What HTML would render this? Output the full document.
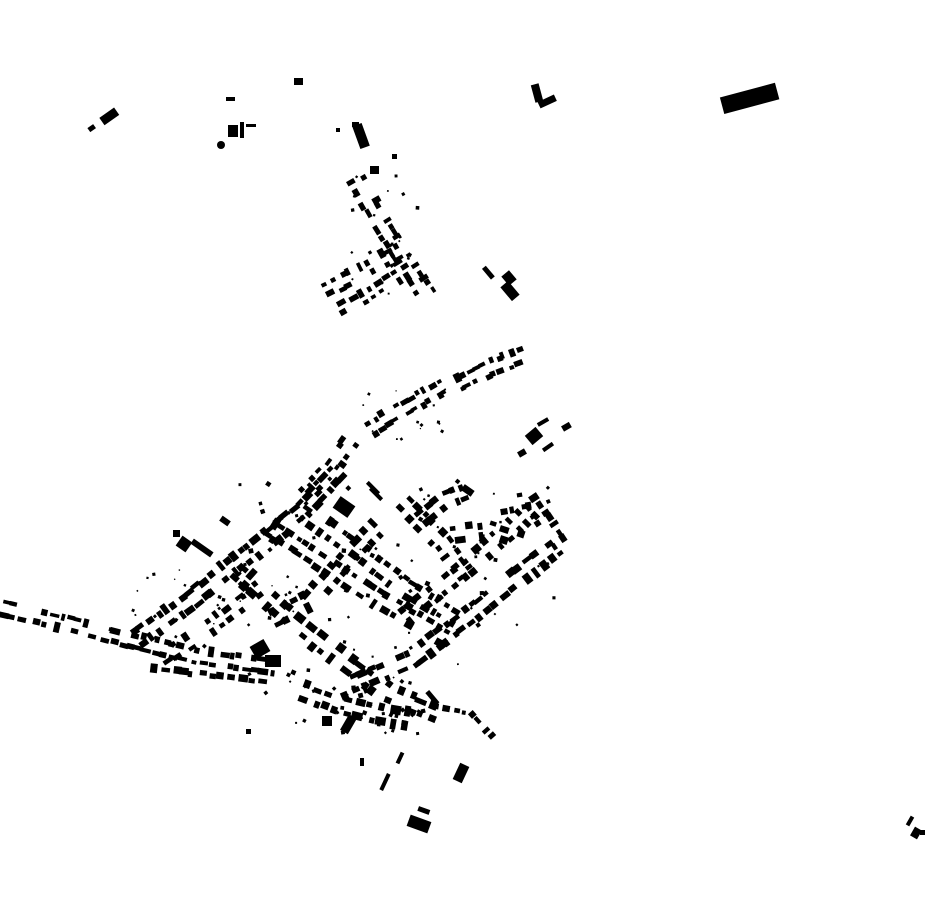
<!DOCTYPE html>
<html><head><meta charset="utf-8"><style>html,body{margin:0;padding:0;background:#fff;width:930px;height:924px;overflow:hidden}svg{display:block}</style></head>
<body>
<svg id="s" width="930" height="924" viewBox="0 0 930 924" xmlns="http://www.w3.org/2000/svg">
<g fill="#000">
<rect x="721" y="90" width="57" height="17" transform="rotate(-15 749 98)"/>
<rect x="533" y="84" width="8" height="18" transform="rotate(-15 537 93)"/>
<rect x="538" y="98" width="18" height="7" transform="rotate(-25 547 101)"/>
<rect x="100" y="112" width="18" height="9" transform="rotate(-35 109 116)"/>
<rect x="88" y="126" width="7" height="5" transform="rotate(-35 91 128)"/>
<rect x="226" y="97" width="9" height="4"/>
<rect x="228" y="125" width="10" height="12"/>
<rect x="240" y="122" width="4" height="16"/>
<rect x="246" y="124" width="10" height="3"/>
<circle cx="221" cy="145" r="4"/>
<rect x="294" y="78" width="9" height="7"/>
<rect x="356" y="124" width="10" height="24" transform="rotate(-20 361 136)"/>
<rect x="352" y="122" width="7" height="5"/>
<rect x="336" y="128" width="4" height="4"/>
<rect x="370" y="166" width="9" height="8"/>
<rect x="392" y="154" width="5" height="5"/>
<rect x="486" y="266" width="5" height="14" transform="rotate(-40 488 273)"/>
<rect x="504" y="272" width="10" height="12" transform="rotate(-40 509 278)"/>
<rect x="505" y="282" width="10" height="18" transform="rotate(-40 510 291)"/>
<rect x="527" y="430" width="14" height="12" transform="rotate(-40 534 436)"/>
<rect x="537" y="420" width="12" height="4" transform="rotate(-30 543 422)"/>
<rect x="542" y="445" width="12" height="4" transform="rotate(-35 548 447)"/>
<rect x="518" y="450" width="8" height="6" transform="rotate(-30 522 453)"/>
<rect x="562" y="424" width="9" height="6" transform="rotate(-30 566 427)"/>
<rect x="335" y="500" width="18" height="14" transform="rotate(35 344 507)"/>
<rect x="365" y="486" width="16" height="4" transform="rotate(45 373 488)"/>
<rect x="368" y="492" width="16" height="4" transform="rotate(45 376 494)"/>
<rect x="462" y="487" width="12" height="7" transform="rotate(35 468 490)"/>
<rect x="178" y="538" width="12" height="12" transform="rotate(35 184 544)"/>
<rect x="190" y="545" width="24" height="6" transform="rotate(35 202 548)"/>
<rect x="173" y="530" width="7" height="7"/>
<rect x="220" y="518" width="10" height="6" transform="rotate(35 225 521)"/>
<rect x="456" y="764" width="10" height="18" transform="rotate(25 461 773)"/>
<rect x="408" y="818" width="22" height="12" transform="rotate(20 419 824)"/>
<rect x="418" y="808" width="12" height="5" transform="rotate(20 424 810)"/>
<rect x="383" y="773" width="4" height="18" transform="rotate(25 385 782)"/>
<rect x="398" y="752" width="4" height="12" transform="rotate(25 400 758)"/>
<rect x="360" y="758" width="4" height="8"/>
<rect x="246" y="729" width="5" height="5"/>
<rect x="908" y="816" width="4" height="10" transform="rotate(30 910 821)"/>
<rect x="912" y="828" width="8" height="10" transform="rotate(30 916 833)"/>
<rect x="920" y="830" width="5" height="5"/>
<rect x="344" y="715" width="9" height="18" transform="rotate(30 348 724)"/>
<rect x="322" y="716" width="10" height="10"/>
<rect x="252" y="642" width="16" height="14" transform="rotate(-30 260 649)"/>
<rect x="265" y="655" width="16" height="12"/>
<rect x="430" y="690" width="5" height="16" transform="rotate(-40 432 698)"/>
</g>
<g id="gen" fill="#000"></g>
</svg>
<script>
var seed=7;function r(){seed=(seed*16807)%2147483647;return seed/2147483647;}
var g=document.getElementById('gen'),out='';
function rect(x,y,w,h,a){out+='<rect x="'+(x-w/2).toFixed(1)+'" y="'+(y-h/2).toFixed(1)+'" width="'+w.toFixed(1)+'" height="'+h.toFixed(1)+'" transform="rotate('+a.toFixed(1)+' '+x.toFixed(1)+' '+y.toFixed(1)+')"/>';}
function row(pts,n,off,w,h,jit,p){
  p=p||0.85;
  var L=[0],tot=0;for(var i=1;i<pts.length;i++){tot+=Math.hypot(pts[i][0]-pts[i-1][0],pts[i][1]-pts[i-1][1]);L.push(tot);}
  for(var k=0;k<n;k++){
    var d=(k+0.5+ (r()-0.5)*0.6)/n*tot, s=1;while(s<pts.length-1&&L[s]<d)s++;
    var p0=pts[s-1],p1=pts[s],t=(d-L[s-1])/(L[s]-L[s-1]);
    var dx=p1[0]-p0[0],dy=p1[1]-p0[1],len=Math.hypot(dx,dy),nx=-dy/len,ny=dx/len;
    var x=p0[0]+dx*t+nx*off+(r()-0.5)*jit,y=p0[1]+dy*t+ny*off+(r()-0.5)*jit;
    var a=Math.atan2(dy,dx)*180/Math.PI+(r()<0.25?90:0);
    var ww=w*(0.6+r()*0.8),hh=h*(0.7+r()*0.6);
    if(r()<p)rect(x,y,ww,hh,a);
  }
}
function both(pts,n,off,w,h,j,p){row(pts,n,off,w,h,j,p);row(pts,n,-off,w,h,j,p);}
function inside(x,y){ // rough town hull
  if(x>470&&y>640)return false;
  if(x>520&&y>600)return false;
  if(y>700&&(x<290||x>450))return false;
  return true;}
function scat(x0,y0,x1,y1,n,s){for(var i=0;i<n;i++){var x=x0+r()*(x1-x0),y=y0+r()*(y1-y0),q=s*(0.4+r()*0.8);if(inside(x,y))rect(x,y,q,q,r()*90);}}
both([[355,178],[380,222],[405,262],[428,298]],18,7,7,5,3);
both([[325,290],[365,270],[405,248]],10,6,7,5,3);
both([[340,310],[372,292],[410,268]],8,5,7,5,3);
scat(345,170,420,300,20,3);
both([[455,385],[490,368],[525,355]],10,6,7,5,3);
both([[368,430],[405,408],[445,385]],11,6,7,5,3);
both([[300,500],[330,470],[352,440]],8,6,6,5,4);
scat(360,380,450,440,14,3);
both([[0,608],[60,622],[130,640],[200,657],[275,667]],34,6,8,5,2,0.75);
row([[150,668],[210,675],[265,682]],12,0,7,6,3);
both([[135,640],[190,600],[250,552],[300,512],[340,470]],28,7,8,6,3);
both([[160,660],[220,620],[265,585]],10,6,7,5,3);
scat(130,560,290,650,30,3);
both([[265,525],[320,560],[380,600],[450,640]],22,7,8,6,3);
both([[300,510],[350,545],[410,590],[460,620]],18,7,7,6,3);
both([[235,570],[280,610],[330,650],[390,695],[440,715]],20,7,9,7,3);
both([[400,500],[440,540],[470,580]],9,7,7,6,3);
both([[340,690],[410,660],[470,615],[520,575],[560,545]],26,7,8,6,2);
both([[400,620],[450,580],[510,530],[535,505]],15,7,7,6,3);
both([[270,620],[310,600],[345,560],[380,525]],13,7,8,6,3);
both([[420,520],[445,500],[470,490]],6,6,7,6,3);
both([[500,505],[530,500],[560,545]],10,6,7,6,3);
both([[450,535],[490,530],[520,540]],6,6,8,6,3);
both([[300,690],[340,705],[380,715],[410,720]],10,7,8,7,3);
row([[430,705],[470,712],[495,740]],8,0,6,5,3);
scat(240,480,560,720,100,4);
scat(290,680,420,740,22,4);
g.innerHTML=out;
</script>
</body></html>
